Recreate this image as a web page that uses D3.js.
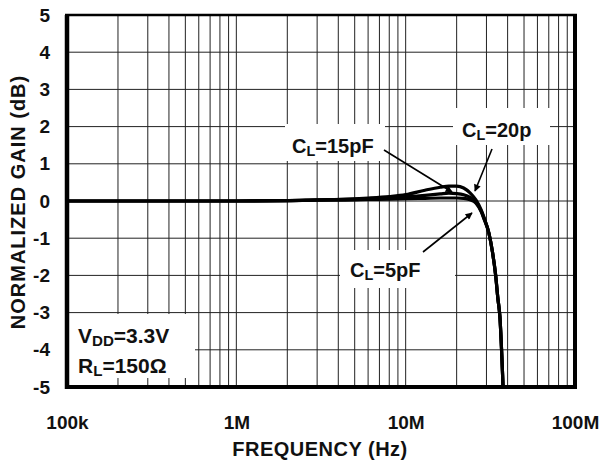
<!DOCTYPE html>
<html>
<head>
<meta charset="utf-8">
<script src="https://cdn.jsdelivr.net/npm/d3@7"></script>
<style>
  body { margin: 0; background: #fff; }
  svg { display: block; font-family: "Liberation Sans", Arial, sans-serif; font-weight: bold; }
</style>
</head>
<body>
<svg id="chart"></svg>
<script>
// data (frequency in MHz, gain in dB)
const freqMHz  = [0.1, 0.3, 1, 2, 3, 5, 6, 8, 10, 13, 16, 18, 20, 22, 24, 26, 28, 29, 31, 32.5, 34, 35, 36, 37.6];
const gain5pF  = [0, 0, 0, 0.01, 0.02, 0.03, 0.04, 0.05, 0.06, 0.07, 0.08, 0.08, 0.08, 0.07, 0.03, -0.06, -0.3, -0.48, -0.86, -1.35, -2.0, -2.6, -3.1, -5];
const gain15pF = [0, 0, 0, 0.01, 0.03, 0.05, 0.06, 0.09, 0.11, 0.15, 0.19, 0.21, 0.2, 0.17, 0.1, -0.03, -0.28, -0.46, -0.86, -1.35, -2.0, -2.6, -3.1, -5];
const gain20pF = [0, 0, 0, 0.01, 0.03, 0.06, 0.08, 0.12, 0.17, 0.29, 0.37, 0.4, 0.4, 0.35, 0.22, 0.03, -0.25, -0.44, -0.86, -1.35, -2.0, -2.6, -3.1, -5];
const xTickValues = [0.1, 1, 10, 100];
const xTickLabels = ["100k", "1M", "10M", "100M"];
const yTickValues = [-5, -4, -3, -2, -1, 0, 1, 2, 3, 4, 5];

const W = 603, H = 465;
const plotL = 67, plotR = 575, plotT = 15, plotB = 387;

const svg = d3.select("#chart").attr("width", W).attr("height", H);

const x = d3.scaleLog().domain([0.1, 100]).range([plotL, plotR]);
const y = d3.scaleLinear().domain([-5, 5]).range([plotB, plotT]);

// grid
const minor = [];
[0.1, 1, 10].forEach(d => { for (let k = 1; k <= 9; k++) minor.push(d * k); });
minor.push(100);

svg.append("g").selectAll("line").data(minor).enter().append("line")
  .attr("x1", d => x(d)).attr("x2", d => x(d))
  .attr("y1", plotT).attr("y2", plotB)
  .attr("stroke", "#222").attr("stroke-width", 1);

svg.append("g").selectAll("line").data(yTickValues).enter().append("line")
  .attr("x1", plotL).attr("x2", plotR)
  .attr("y1", d => y(d)).attr("y2", d => y(d))
  .attr("stroke", "#222").attr("stroke-width", 1);

// white label boxes hiding the grid
const boxes = [
  [285, 124, 100, 37],
  [453, 108, 97, 37],
  [340, 250, 115, 38],
  [69, 314, 126, 64]
];
svg.append("g").selectAll("rect").data(boxes).enter().append("rect")
  .attr("x", d => d[0]).attr("y", d => d[1])
  .attr("width", d => d[2]).attr("height", d => d[3])
  .attr("fill", "#fff");

// curves
svg.append("clipPath").attr("id", "clip")
  .append("rect").attr("x", plotL).attr("y", plotT)
  .attr("width", plotR - plotL).attr("height", plotB - plotT);

const line = d3.line()
  .x(d => x(d[0]))
  .y(d => y(d[1]))
  .curve(d3.curveMonotoneX);

[gain5pF, gain15pF, gain20pF].forEach(g => {
  svg.append("path")
    .datum(freqMHz.map((f, i) => [f, g[i]]))
    .attr("d", line)
    .attr("clip-path", "url(#clip)")
    .attr("fill", "none")
    .attr("stroke", "#000")
    .attr("stroke-width", 3.2)
    .attr("stroke-linejoin", "round");
});

// frame
svg.append("line").attr("x1", plotL - 2).attr("x2", plotR + 2).attr("y1", plotT).attr("y2", plotT)
  .attr("stroke", "#000").attr("stroke-width", 2.5);
svg.append("line").attr("x1", plotL - 2).attr("x2", plotR + 2).attr("y1", plotB).attr("y2", plotB)
  .attr("stroke", "#000").attr("stroke-width", 4);
svg.append("line").attr("x1", plotL).attr("x2", plotL).attr("y1", plotT).attr("y2", plotB + 2)
  .attr("stroke", "#000").attr("stroke-width", 4.5);
svg.append("line").attr("x1", plotR).attr("x2", plotR).attr("y1", plotT).attr("y2", plotB + 2)
  .attr("stroke", "#000").attr("stroke-width", 4);

// axes
const xAxis = d3.axisBottom(x)
  .tickValues(xTickValues)
  .tickFormat((d, i) => xTickLabels[i])
  .tickSize(0)
  .tickPadding(29);
const gx = svg.append("g").attr("transform", `translate(0,${plotB})`).call(xAxis);

const yAxis = d3.axisLeft(y)
  .tickValues(yTickValues)
  .tickFormat(d => String(d))
  .tickSize(0)
  .tickPadding(17);
const gy = svg.append("g").attr("transform", `translate(${plotL},0)`).call(yAxis);

[gx, gy].forEach(g => {
  g.select(".domain").remove();
  g.selectAll("text")
    .style("font-size", "19px")
    .style("font-weight", "bold")
    .style("font-family", "'Liberation Sans', Arial, sans-serif")
    .attr("fill", "#111");
});

svg.append("text")
  .attr("x", (plotL + plotR) / 2 - 1).attr("y", 456)
  .attr("text-anchor", "middle")
  .style("font-size", "20px")
  .style("letter-spacing", "0.5px")
  .attr("fill", "#111")
  .text("FREQUENCY (Hz)");

svg.append("text")
  .attr("transform", "translate(25,202) rotate(-90)")
  .attr("text-anchor", "middle")
  .style("font-size", "20px")
  .style("letter-spacing", "1px")
  .attr("fill", "#111")
  .text("NORMALIZED GAIN (dB)");

// annotations
function subLabel(px, py, main, sub, rest, size) {
  const t = svg.append("text").attr("x", px).attr("y", py)
    .style("font-size", size + "px").attr("fill", "#111");
  t.append("tspan").text(main);
  t.append("tspan").text(sub).style("font-size", (size * 0.72) + "px").attr("dy", 3);
  t.append("tspan").text(rest).attr("dy", -3);
  return t;
}
subLabel(292, 153, "C", "L", "=15pF", 20);
subLabel(462, 137, "C", "L", "=20p", 20);
subLabel(350, 277, "C", "L", "=5pF", 20);
subLabel(78, 343, "V", "DD", "=3.3V", 21);
subLabel(78, 373, "R", "L", "=150\u03A9", 21);

const defs = svg.append("defs");
defs.append("marker").attr("id", "arrow")
  .attr("viewBox", "0 0 10 10").attr("refX", 9).attr("refY", 5)
  .attr("markerWidth", 9).attr("markerHeight", 7)
  .attr("markerUnits", "userSpaceOnUse")
  .attr("orient", "auto")
  .append("path").attr("d", "M0,0 L10,5 L0,10 Z").attr("fill", "#000");

const arrows = [
  [384, 150, 452, 192],
  [492, 149, 475, 191],
  [423, 252, 472, 213]
];
svg.append("g").selectAll("line").data(arrows).enter().append("line")
  .attr("x1", d => d[0]).attr("y1", d => d[1])
  .attr("x2", d => d[2]).attr("y2", d => d[3])
  .attr("stroke", "#000").attr("stroke-width", 1.6)
  .attr("marker-end", "url(#arrow)");
</script>
</body>
</html>
